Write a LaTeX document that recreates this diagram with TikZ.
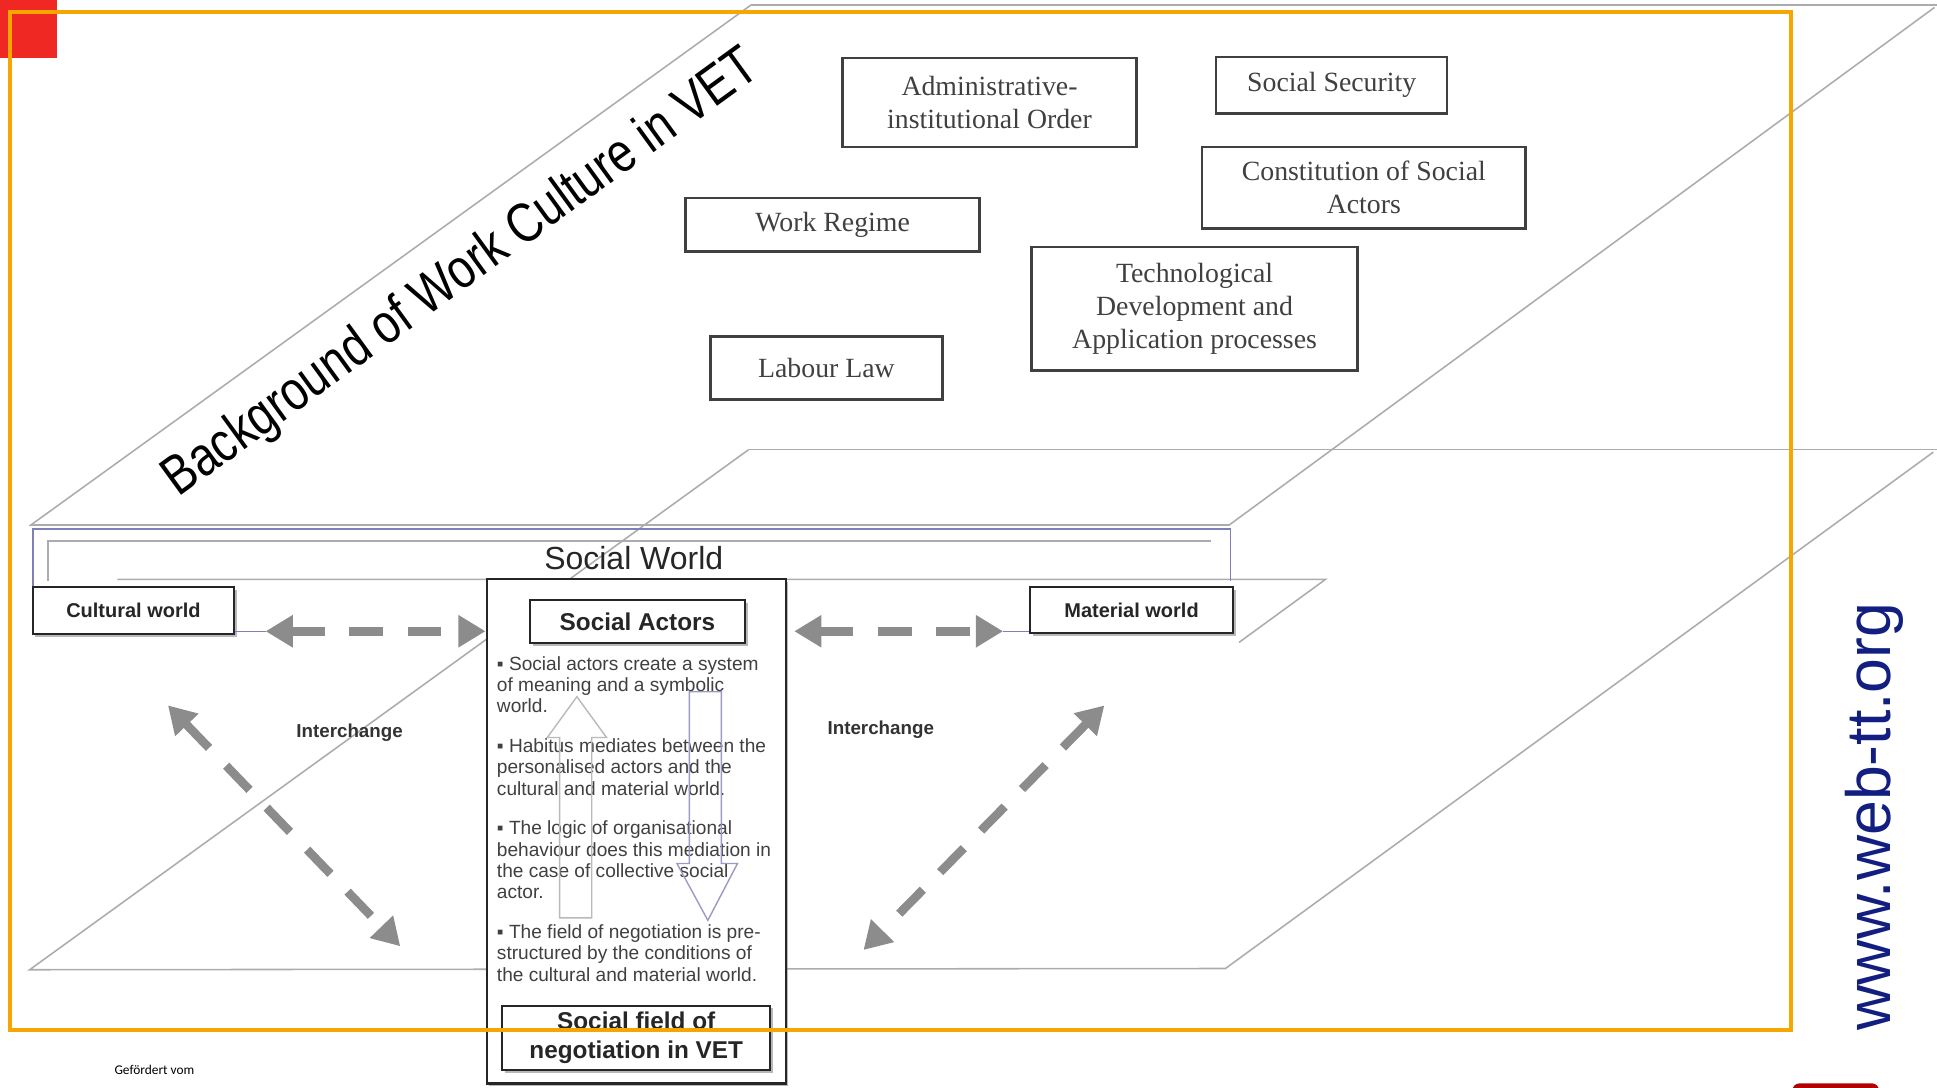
\documentclass[tikz,border=0pt]{standalone}
\usepackage{fontspec}
\setmainfont{Liberation Serif}
\newfontfamily\arialf{Liberation Sans}
\newfontfamily\calibf{Carlito}
\usepackage{tikz}
\usetikzlibrary{positioning,arrows.meta,shadows}
\definecolor{frameorange}{RGB}{245,166,0}
\definecolor{webblue}{RGB}{18,30,128}
\definecolor{swblue}{RGB}{128,128,184}
\definecolor{planegray}{RGB}{172,172,172}
\definecolor{arrowgray}{RGB}{140,140,140}
\definecolor{logored}{RGB}{240,40,35}

\begin{document}
\begin{tikzpicture}[
    x=0.025cm, y=-0.025cm,
    plane/.style={draw=planegray, line width=0.9pt},
    bgbox/.style={draw=black!75, line width=1.4pt, fill=white, align=center, inner sep=0pt, text=black!75, font=\fontsize{16}{19}\selectfont},
    worldbox/.style={draw=black!85, line width=1.2pt, fill=white, inner sep=0pt, align=center, text=black!85,
        drop shadow={shadow xshift=1.6pt, shadow yshift=-1.6pt, fill=black!55}},
    xarrow/.style={draw=arrowgray, line width=5pt, dash pattern=on 0.68cm off 0.5cm,
        {Triangle[length=0.55cm,width=0.62cm]}-{Triangle[length=0.55cm,width=0.62cm]}},
    thinlink/.style={draw=swblue, line width=0.8pt},
    label/.style={font=\arialf\bfseries\fontsize{10.8}{12}\selectfont, text=black!80}
]
    \useasboundingbox (0,0) rectangle (1568,880);

    % planes
    \draw [plane] (608,4) -- (1568,4);
    \draw [plane] (608,4) -- (25,425) -- (995,425) -- (1566,6);
    \draw [plane] (606,364) -- (1568,364);
    \draw [plane] (606,364) -- (24,785) -- (992,784) -- (1565,366);
    \draw [plane] (95,469) -- (1073,469) -- (1003,520);

    \node [rotate=36, font=\arialf\fontsize{32}{34}\selectfont, xscale=0.82] (bgtitle) at (374,222) {Background of Work Culture in VET};

    % background factors
    \node [bgbox, minimum width=5.95cm, minimum height=1.8cm] (admin) at (801,83) {Administrative-\\institutional Order};
    \node [bgbox, minimum width=4.675cm, minimum height=1.15cm] (secur) at (1078,69) {Social Security};
    \node [bgbox, minimum width=6.55cm, minimum height=1.65cm] (constit) at (1104,152) {Constitution of Social\\Actors};
    \node [bgbox, minimum width=5.95cm, minimum height=1.075cm] (regime) at (674,182) {Work Regime};
    \node [bgbox, minimum width=6.6cm, minimum height=2.5cm] (techno) at (967,250) {Technological\\Development and\\Application processes};
    \node [bgbox, minimum width=4.7cm, minimum height=1.275cm] (labour) at (669,298) {Labour Law};

    % social world
    \draw [swblue, line width=1pt] (27,475) -- (27,428) -- (996,428) -- (996,470);
    \draw [planegray, line width=0.8pt] (39,470) -- (39,438) -- (980,438);
    \node [font=\arialf\fontsize{18.4}{20}\selectfont, text=black!85] (swlabel) at (513,452) {Social World};

    \node [worldbox, minimum width=4.075cm, minimum height=0.95cm, font=\arialf\bfseries\fontsize{11.5}{13}\selectfont] (cultural) at (108,494) {Cultural world};
    \node [worldbox, minimum width=4.1cm, minimum height=0.925cm, font=\arialf\bfseries\fontsize{11.5}{13}\selectfont] (material) at (916,494) {Material world};

    \node [worldbox, line width=1.3pt, minimum width=6.05cm, minimum height=10.2cm] (actors) at (515,673) {};
    \node [worldbox, minimum width=4.35cm, minimum height=0.875cm, font=\arialf\bfseries\fontsize{14}{16}\selectfont] (actorshead) at (516,503) {Social Actors};
    \node [worldbox, minimum width=5.425cm, minimum height=1.3cm, font=\arialf\bfseries\fontsize{14}{16.3}\selectfont, above=0.275cm of actors.south] (field) {Social field of\\negotiation in VET};

    \node [anchor=north west, align=left, inner sep=0pt, text=black!75, font=\arialf\fontsize{11}{12.3}\selectfont] (points) at (402,531) {%
        ▪ Social actors create a system\\of meaning and a symbolic\\world.\\[10.5pt]
        ▪ Habitus mediates between the\\personalised actors and the\\cultural and material world.\\[10.5pt]
        ▪ The logic of organisational\\behaviour does this mediation in\\the case of collective social\\actor.\\[10.5pt]
        ▪ The field of negotiation is pre-\\structured by the conditions of\\the cultural and material world.};

    % up and down arrows
    \draw [gray!55, line width=0.8pt] (453,743) -- (453,597) -- (443,597) -- (467,564) -- (491,597) -- (479,597) -- (479,743) -- cycle;
    \draw [swblue!80, line width=0.8pt] (558,560) -- (584,560) -- (584,699) -- (597,699) -- (573,745) -- (548,699) -- (558,699) -- cycle;

    % interchange
    \coordinate (cwtip) at (215,511);
    \coordinate (mwtip) at (812,511);
    \draw [thinlink] (cultural.east |- cwtip) -- (cwtip);
    \draw [thinlink] (mwtip) -- (material.west |- mwtip);
    \draw [xarrow] (cwtip) -- (actors.west |- cwtip);
    \draw [xarrow] ([xshift=0.15cm]actors.east |- mwtip) -- (mwtip);

    \coordinate (dl1) at (136,571);
    \coordinate (dl2) at (324,766);
    \coordinate (dr1) at (894,571);
    \coordinate (dr2) at (699,769);
    \draw [xarrow] (dl1) -- (dl2);
    \draw [xarrow] (dr1) -- (dr2);

    \node [label] (ilabel) at (283,593) {Interchange};
    \node [label] (mlabel) at (713,591) {Interchange};

    % slide frame
    \fill [logored] (0,0) rectangle (46,47);
    \fill [red!70!black, rounded corners=4pt] (1451,877) rectangle (1521,900);
    \draw [frameorange, line width=2.2pt] (8,10) rectangle (1450,834);
    \node [rotate=90, text=webblue, font=\arialf\fontsize{36}{38}\selectfont] (web) at (1517,661) {www.web-tt.org};
    \node [font=\calibf\fontsize{7.7}{9}\selectfont] (funded) at (125,866) {Gefördert vom};
\end{tikzpicture}
\end{document}
